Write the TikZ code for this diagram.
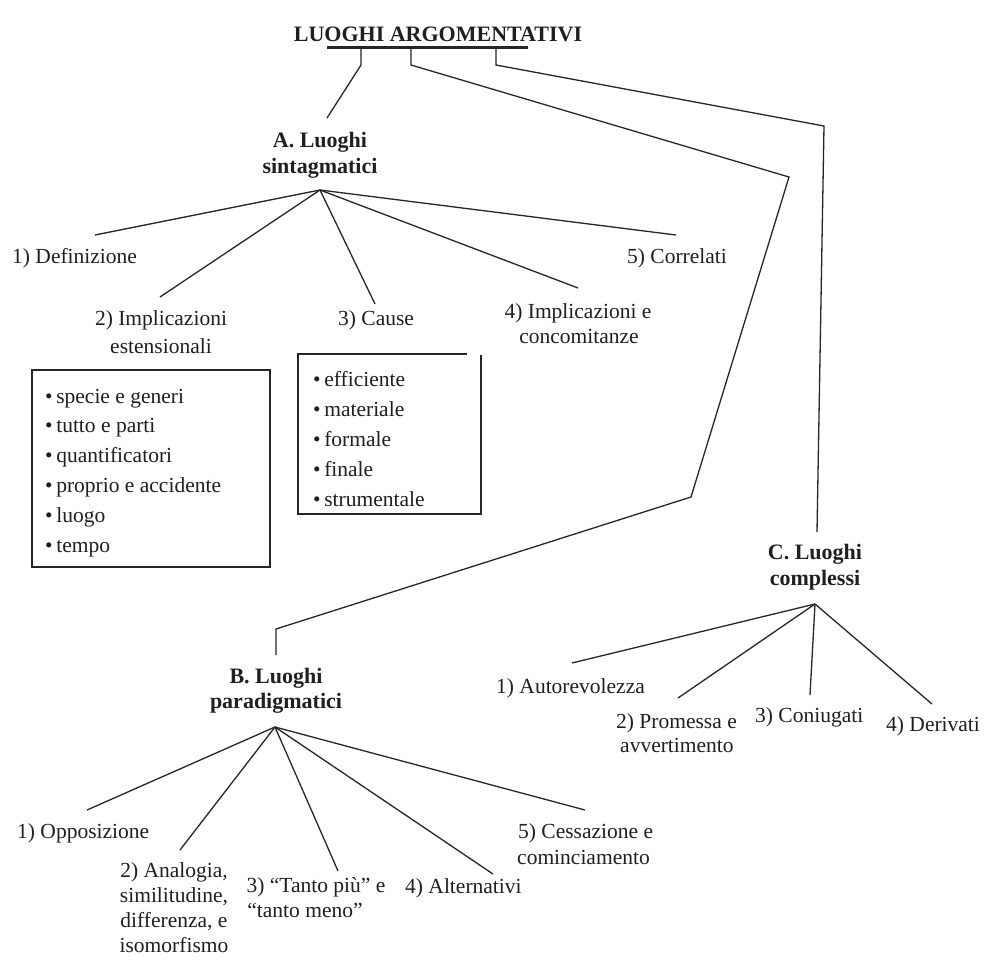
\documentclass[tikz,border=0pt]{standalone}
\usepackage{fontspec}
\setmainfont{Liberation Serif}
\begin{document}
\begin{tikzpicture}[x=1pt,y=-1pt,
  conn/.style={line width=1.3pt, draw=black!85, line join=miter},
  txt/.style={inner sep=0pt, text=black!88, font=\fontsize{21.5}{25}\selectfont},
  bld/.style={inner sep=0pt, text=black!88, font=\fontsize{22}{26}\selectfont\bfseries},
  lft/.style={txt, anchor=base west},
  ctr/.style={txt, anchor=base},
  boxline/.style={line width=1.3pt, draw=black!85}
]
\useasboundingbox (0,0) rectangle (988,967);

% ---- title ----
\node[bld, anchor=base] (title) at (438,41) {LUOGHI ARGOMENTATIVI};
\coordinate (ulL) at (327,47.5);
\coordinate (ulR) at (528,47.5);
\draw[line width=2.4pt, draw=black!85] (ulL) -- (ulR);
\coordinate (t1) at (361,47); \coordinate (t1b) at (361,65);
\coordinate (t2) at (411,47); \coordinate (t2b) at (411,65);
\coordinate (t3) at (496,47); \coordinate (t3b) at (496,65);

% ---- A ----
\node[bld, anchor=base] (A1) at (320,147) {A. Luoghi};
\node[bld, anchor=base] (A2) at (320,173) {sintagmatici};
\coordinate (Atop) at (327,118);
\coordinate (Aap) at (320,190);
\draw[conn] (t1) -- (t1b) -- (Atop);

\coordinate (a1) at (95,235);
\coordinate (a2) at (160,297);
\coordinate (a3) at (375,304);
\coordinate (a4) at (578,288);
\coordinate (a5) at (676,235);
\foreach \c in {a1,a2,a3,a4,a5} \draw[conn] (Aap) -- (\c);

\node[lft] (la1) at (12,263) {1) Definizione};
\node[ctr] (la2a) at (161,325) {2) Implicazioni};
\node[ctr] (la2b) at (161,353) {estensionali};
\node[lft] (la3) at (338,325) {3) Cause};
\node[ctr] (la4a) at (578,318) {4) Implicazioni e};
\node[ctr] (la4b) at (579,343) {concomitanze};
\node[lft] (la5) at (627,263) {5) Correlati};

% box 1
\draw[boxline] (32,370) rectangle (270,567);
\node[lft] (b11) at (45,403) {•\,specie e generi};
\node[lft] (b12) at (45,432) {•\,tutto e parti};
\node[lft] (b13) at (45,462) {•\,quantificatori};
\node[lft] (b14) at (45,492) {•\,proprio e accidente};
\node[lft] (b15) at (45,522) {•\,luogo};
\node[lft] (b16) at (45,552) {•\,tempo};

% box 2
\draw[boxline] (467,354) -- (298,354) -- (298,514) -- (481,514) -- (481,355);
\node[lft] (b21) at (313,386) {•\,efficiente};
\node[lft] (b22) at (313,416) {•\,materiale};
\node[lft] (b23) at (313,446) {•\,formale};
\node[lft] (b24) at (313,476) {•\,finale};
\node[lft] (b25) at (313,506) {•\,strumentale};

% ---- B ----
\coordinate (Bc1) at (789,177);
\coordinate (Bc2) at (691,497);
\coordinate (Bc3) at (276,629);
\coordinate (Btop) at (276,655);
\draw[conn] (t2) -- (t2b) -- (Bc1) -- (Bc2) -- (Bc3) -- (Btop);
\node[bld, anchor=base] (B1) at (276,683) {B. Luoghi};
\node[bld, anchor=base] (B2) at (276,708) {paradigmatici};
\coordinate (Bap) at (275,727);

\coordinate (e1) at (87,810);
\coordinate (e2) at (180,850);
\coordinate (e3) at (338,871);
\coordinate (e4) at (493,874);
\coordinate (e5) at (585,810);
\foreach \c in {e1,e2,e3,e4,e5} \draw[conn] (Bap) -- (\c);

\node[lft] (lb1) at (17,838) {1) Opposizione};
\node[ctr] (lb2a) at (174,877) {2) Analogia,};
\node[ctr] (lb2b) at (174,902) {similitudine,};
\node[ctr] (lb2c) at (174,927) {differenza, e};
\node[ctr] (lb2d) at (174,952) {isomorfismo};
\node[ctr] (lb3a) at (316,892) {3) “Tanto più” e};
\node[ctr] (lb3b) at (305,917) {“tanto meno”};
\node[lft] (lb4) at (405,893) {4) Alternativi};
\node[lft] (lb5a) at (518,838) {5) Cessazione e};
\node[lft] (lb5b) at (517,864) {cominciamento};

% ---- C ----
\coordinate (Cc1) at (824,126);
\coordinate (Ctop) at (817,532);
\draw[conn] (t3) -- (t3b) -- (Cc1) -- (Ctop);
\node[bld, anchor=base] (C1) at (815,559) {C. Luoghi};
\node[bld, anchor=base] (C2) at (815,585) {complessi};
\coordinate (Cap) at (815,604);

\coordinate (f1) at (572,663);
\coordinate (f2) at (678,698);
\coordinate (f3) at (810,695);
\coordinate (f4) at (932,704);
\foreach \c in {f1,f2,f3,f4} \draw[conn] (Cap) -- (\c);

\node[lft] (lc1) at (496,693) {1) Autorevolezza};
\node[lft] (lc2a) at (616,728) {2) Promessa e};
\node[lft] (lc2b) at (620,752) {avvertimento};
\node[lft] (lc3) at (755,722) {3) Coniugati};
\node[lft] (lc4) at (886,731) {4) Derivati};
\end{tikzpicture}
\end{document}
